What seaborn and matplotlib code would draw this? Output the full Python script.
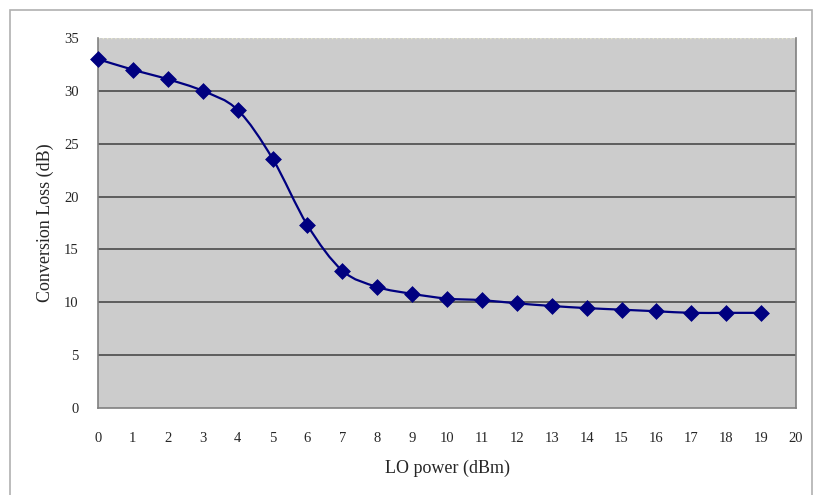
import matplotlib
matplotlib.use("Agg")
import matplotlib.pyplot as plt
import seaborn as sns
import pandas as pd
import numpy as np
from matplotlib.path import Path
from matplotlib.patches import PathPatch, Rectangle

lo_power = [0, 1, 2, 3, 4, 5, 6, 7, 8, 9, 10, 11, 12, 13, 14, 15, 16, 17, 18, 19]
conv_loss = [33.0, 32.0, 31.1, 30.0, 28.2, 23.6, 17.3, 13.0, 11.45, 10.8,
             10.35, 10.2, 9.9, 9.65, 9.45, 9.3, 9.15, 9.0, 9.0, 9.0]
x_ticks = list(range(0, 21))
y_ticks = [0, 5, 10, 15, 20, 25, 30, 35]

df = pd.DataFrame({"lo": lo_power, "loss": conv_loss})

sns.set_style("white")
plt.rcParams["font.family"] = ["Liberation Serif", "DejaVu Serif"]

fig = plt.figure(figsize=(8.16, 4.95), dpi=100)
ax = fig.add_axes([0.1201, 0.1758, 0.8554, 0.7474])
ax.set_facecolor("#cccccc")

# outer chart frame
fig.patches.append(Rectangle((0.012, -0.01), 0.983, 0.99, transform=fig.transFigure,
                             fill=False, edgecolor="#b0b0b0", linewidth=1.2))

# smoothed line (Catmull-Rom as Bezier segments)
xs = np.array(lo_power, dtype=float)
ys = np.array(conv_loss, dtype=float)
verts = [(xs[0], ys[0])]
codes = [Path.MOVETO]
n = len(xs)
for i in range(n - 1):
    p0 = (xs[max(i - 1, 0)], ys[max(i - 1, 0)])
    p1 = (xs[i], ys[i])
    p2 = (xs[i + 1], ys[i + 1])
    p3 = (xs[min(i + 2, n - 1)], ys[min(i + 2, n - 1)])
    c1 = (p1[0] + (p2[0] - p0[0]) / 6, p1[1] + (p2[1] - p0[1]) / 6)
    c2 = (p2[0] - (p3[0] - p1[0]) / 6, p2[1] - (p3[1] - p1[1]) / 6)
    verts += [c1, c2, p2]
    codes += [Path.CURVE4] * 3
ax.add_patch(PathPatch(Path(verts, codes), fill=False, edgecolor="#000080",
                       linewidth=1.6, zorder=3))

sns.scatterplot(data=df, x="lo", y="loss", marker="D", s=65, color="#000080",
                edgecolor="#000080", linewidth=0.5, zorder=4, ax=ax, legend=False,
                clip_on=False)

ax.set_xlim(0, 20)
ax.set_ylim(0, 35)
ax.set_xticks(x_ticks)
ax.set_yticks(y_ticks)
ax.set_xticklabels([str(t) for t in x_ticks], fontsize=10.5)
ax.set_yticklabels([str(t) for t in y_ticks], fontsize=10.5)

for yv in y_ticks[1:-1]:
    ax.axhline(yv, color="#4a4a4a", linewidth=1.2, zorder=1)
ax.axhline(35, color="#e8e8d0", linewidth=1, linestyle=(0, (1, 2)), zorder=1)

for side in ["left", "bottom", "right"]:
    ax.spines[side].set_color("#808080")
    ax.spines[side].set_linewidth(1.2)
ax.spines["top"].set_visible(False)

ax.tick_params(axis="x", direction="in", length=4, color="#808080", pad=17)
ax.tick_params(axis="y", direction="out", length=0, pad=14)

ax.set_xlabel("LO power (dBm)", fontsize=13, labelpad=11)
ax.set_ylabel("Conversion Loss (dB)", fontsize=13, labelpad=7)

fig.savefig("out.png", dpi=100)
